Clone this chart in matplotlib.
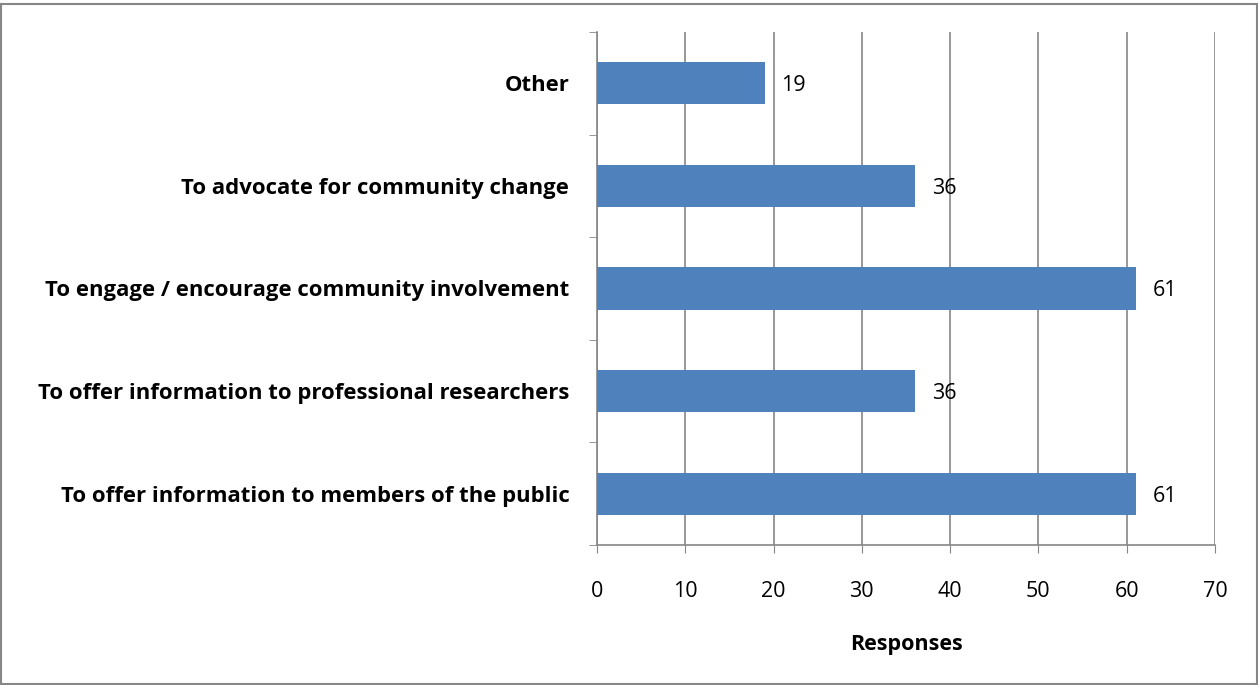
import numpy as np
import matplotlib.pyplot as plt
from matplotlib.patches import Rectangle

# Data
categories = ['To offer information to members of the public',
              'To offer information to professional researchers',
              'To engage / encourage community involvement',
              'To advocate for community change',
              'Other']
responses = [61, 36, 61, 36, 19]
x_ticks = [0, 10, 20, 30, 40, 50, 60, 70]

plt.rcParams['font.family'] = ['Open Sans', 'DejaVu Sans']

fig = plt.figure(figsize=(12.58, 6.85), dpi=100)
ax = fig.add_axes([0.4746, 0.2044, 0.4912, 0.7489])

y = np.arange(len(categories))
ax.barh(y, responses, height=0.41, color='#4F81BD', zorder=3)

# value labels next to each bar
for yi, v in zip(y, responses):
    ax.text(v + 1.9, yi, str(v), va='center_baseline', ha='left', fontsize=15.5, zorder=4)

ax.set_xlim(0, 70)
ax.set_ylim(-0.5, len(categories) - 0.5)
ax.set_xticks(x_ticks)
ax.set_yticks(y)
ax.set_yticklabels(categories, fontweight='bold', fontsize=15.9)
ax.set_yticks(np.arange(-0.5, len(categories)), minor=True)
ax.tick_params(axis='y', which='major', length=0, pad=20)
ax.tick_params(axis='y', which='minor', length=6, color='#868686', direction='out')
ax.tick_params(axis='x', length=6, color='#868686', labelsize=15.5, pad=20)

ax.grid(axis='x', color='#868686', linewidth=1.2, zorder=0)
for s in ['top', 'right']:
    ax.spines[s].set_visible(False)
for s in ['left', 'bottom']:
    ax.spines[s].set_color('#868686')
    ax.spines[s].set_linewidth(1.2)

ax.set_xlabel('Responses', fontweight='bold', fontsize=15.5, labelpad=23)

# gray frame around the whole chart
fig.patches.append(Rectangle((0.001, 0.001), 0.998, 0.993, transform=fig.transFigure,
                             fill=False, edgecolor='#868686', linewidth=1.5))

fig.savefig('out.png', dpi=100)
